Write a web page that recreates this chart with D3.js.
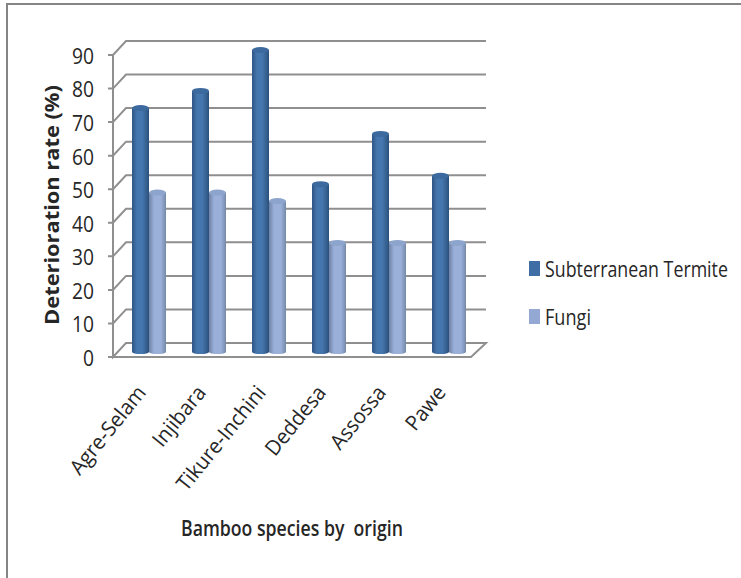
<!DOCTYPE html>
<html><head><meta charset="utf-8">
<script src="https://cdn.jsdelivr.net/npm/d3@7"></script>
<style>html,body{margin:0;padding:0;background:#fff}svg{display:block}text{font-family:"Open Sans",sans-serif;fill:#262626}</style>
</head><body><svg id="c" width="741" height="578"></svg>
<script>
const categories=["Agre-Selam","Injibara","Tikure-Inchini","Deddesa","Assossa","Pawe"];
const seriesNames=["Subterranean Termite","Fungi"];
const termite=[72.7,77.8,90,50,65,52.5];
const fungi=[47.5,47.5,45,32.5,32.5,32.5];
const yTicks=[0,10,20,30,40,50,60,70,80,90];

const svg=d3.select("#c");
const defs=svg.append("defs");
function grad(id,stops){
  const g=defs.append("linearGradient").attr("id",id).attr("x1",0).attr("x2",1).attr("y1",0).attr("y2",0);
  stops.forEach(s=>g.append("stop").attr("offset",s[0]).attr("stop-color",s[1]));
}
grad("gd",[[0,"#2f5585"],[.3,"#4676ae"],[.6,"#4676ae"],[.85,"#35608f"],[1,"#2b4f7a"]]);
grad("gl",[[0,"#6f82a6"],[.3,"#9ab0d8"],[.7,"#9ab0d8"],[.9,"#8296bc"],[1,"#76889f"]]);

svg.append("path").attr("d","M7,578V4H741").attr("fill","none").attr("stroke","#858585").attr("stroke-width",2);

const yFront=d3.scaleLinear().domain([0,90]).range([357,55]);
const depthX=13,depthY=14;
const x=d3.scaleBand().domain(categories).range([119,479]);
const yBar=d3.scaleLinear().domain([0,90]).range([352,50]);
const grid="#8f8f8f";
const g=svg.append("g");
yTicks.forEach(t=>{
  const y=yFront(t);
  if(t>0){g.append("path").attr("d",`M108,${y}H113L${113+depthX},${y-depthY}H486`).attr("fill","none").attr("stroke",grid).attr("stroke-width",2);}
});
g.append("path").attr("d",`M108,${yFront(0)}H471L486,${yFront(0)-depthY}H${113+depthX}L113,${yFront(0)}V${yFront(90)}`).attr("fill","none").attr("stroke",grid).attr("stroke-width",2);

const bw=17;
function cyl(vals,off,fill,top){
  const sel=svg.append("g").selectAll("g").data(vals).join("g");
  sel.append("path").attr("d",(d,i)=>{
    const l=x(categories[i])+x.bandwidth()/2+off, yt=yBar(d), yb=yBar(0);
    return `M${l},${yt}V${yb}A${bw/2},2 0 0 0 ${l+bw},${yb}V${yt}Z`;
  }).attr("fill",fill);
  sel.append("ellipse").attr("cx",(d,i)=>x(categories[i])+x.bandwidth()/2+off+bw/2)
    .attr("cy",d=>yBar(d)).attr("rx",bw/2).attr("ry",3).attr("fill",top);
}
cyl(termite,-bw,"url(#gd)","#3d6a9e");
cyl(fungi,0,"url(#gl)","#8da4cc");

// place a text with a horizontal squeeze so that it spans `len` pixels
function fit(node,px,py,rot,len){
  const s=len/node.getComputedTextLength();
  d3.select(node).attr("transform",`translate(${px},${py}) rotate(${rot}) scale(${s},1)`);
}

svg.append("g").selectAll("text").data(yTicks).join("text")
  .attr("dy","0.36em").attr("text-anchor","end").attr("font-size",22)
  .text(d=>d)
  .each(function(d){fit(this,94,yFront(d)+1,0,d?22:11);});

svg.append("g").selectAll("text").data(categories).join("text")
  .attr("text-anchor","end").attr("font-size",21)
  .attr("transform",d=>`translate(${x(d)+x.bandwidth()/2-2},393) rotate(-51) scale(0.96,1)`)
  .text(d=>d);

svg.append("text").attr("text-anchor","middle").attr("font-size",20).attr("font-weight",700)
  .text("Deterioration rate (%)")
  .each(function(){fit(this,59,205,-90,240);});

svg.append("text").attr("font-size",21).attr("font-weight",600).attr("xml:space","preserve")
  .style("white-space","pre").text("Bamboo species by  origin")
  .each(function(){fit(this,181,536,0,222);});

const legY=d3.scalePoint().domain(seriesNames).range([269,317]);
const legColors=d3.scaleOrdinal().domain(seriesNames).range(["#3f6ea6","#93a9d3"]);
const leg=svg.append("g").selectAll("g").data(seriesNames).join("g");
leg.append("rect").attr("x",529).attr("y",d=>legY(d)-8).attr("width",11).attr("height",15).attr("fill",d=>legColors(d));
leg.append("text").attr("font-size",22).text(d=>d)
  .each(function(d,i){fit(this,545,legY(d)+8,0,i?46:183);});
</script></body></html>
